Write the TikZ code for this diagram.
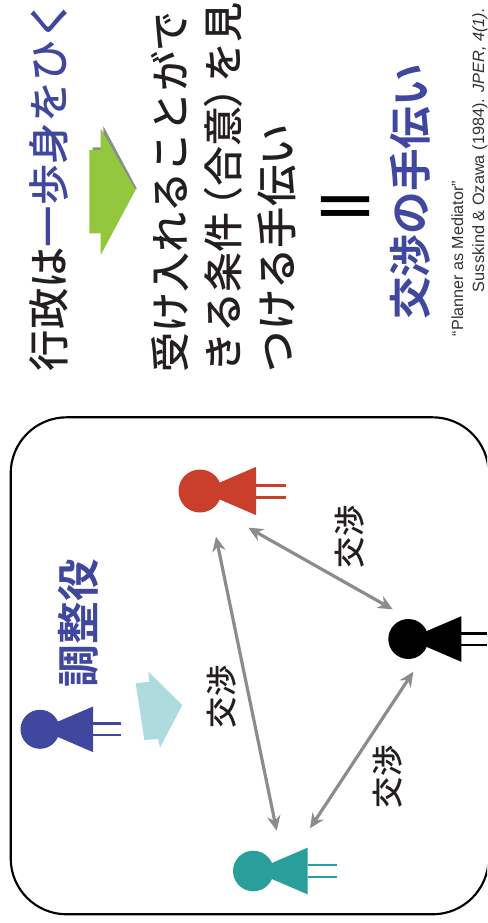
\documentclass[tikz,border=0pt]{standalone}
\usepackage{fontspec}
\usetikzlibrary{arrows.meta}
\setmainfont{Liberation Sans}
\newfontfamily\jp[UprightFont={* Medium},BoldFont={* Bold}]{Noto Sans CJK JP}
\definecolor{inkk}{HTML}{231F20}
\definecolor{navy}{HTML}{3F479F}
\definecolor{redp}{HTML}{C93F2C}
\definecolor{tealp}{HTML}{2A9E9B}
\definecolor{greyl}{HTML}{8A8C8E}
\definecolor{greena}{HTML}{93C83E}
\definecolor{paleb}{HTML}{AEDCDE}
\newcommand{\jsize}[1]{\fontsize{#1}{#1}\selectfont}
\newcommand{\person}[5]{%
  \begin{scope}[shift={(#1,#2)}]
    \fill[#5] (0,0) circle[radius=#3];
    \fill[#5] (0,0) -- (#4,-0.43*#4) -- (#4,0.43*#4) -- cycle;
  \end{scope}}
\tikzset{
  x=0.75pt,y=-0.75pt,
  rottext/.style={rotate=90,anchor=base west,inner sep=0pt,outer sep=0pt,font=\jp,text=inkk},
  gesture/.style={line width=2.4pt,draw=greyl,{Stealth[length=11pt,width=10pt,inset=3.5pt]}-{Stealth[length=11pt,width=10pt,inset=3.5pt]}},
  leg/.style={line width=2pt},
}
\begin{document}
\begin{tikzpicture}
\useasboundingbox (0,0) rectangle (487,923);
% frame
\begin{scope}
\clip (0,0) rectangle (487,923);
\draw[line width=1.6pt,draw=black,rounded corners=42pt] (10.7,417.3) rectangle (488.6,914.3);
\end{scope}
% header text
\node[rottext] (t1) at (64.5,371) {\jsize{31}行政は\textcolor{navy}{一歩身をひく}};
\node[rottext] (t2) at (185,372) {\jsize{30}受け入れることがで};
\node[rottext] (t3) at (238.5,372) {\jsize{30}きる条件\hspace{-10pt}（合意\hspace{-2pt}）\hspace{-10.5pt}を見};
\node[rottext] (t4) at (292.5,372) {\jsize{31}つける手伝い};
\node[rottext,font=\jp\bfseries,text=navy] (t5) at (426,320) {\jsize{32}交渉の手伝い};
\node[inner sep=0pt,outer sep=0pt,font=\jp\bfseries,text=black,xscale=1.16] (eq) at (345.7,213) {\jsize{44}＝};
% citation
\node[rottext,font={},text=inkk!92] (c1) at (463,336) {\fontsize{12.1}{12.1}\selectfont “Planner as Mediator”};
\node[rottext,font={},text=inkk!92] (c2) at (484,292) {\fontsize{12.25}{12.25}\selectfont Susskind \& Ozawa (1984). \textit{JPER, 4(1).}};
% big arrow
\fill[greyl] (92.7,147.3) -- (103.3,147.3) -- (103.3,126) -- (136.7,188.3) -- (136,190) -- (100.7,150) -- (92.7,150) -- cycle;
\fill[greena] (89.3,150) -- (100.7,150) -- (100.7,128.3) -- (135.5,190) -- (100.7,255) -- (100.7,233.3) -- (89.3,233.3) -- cycle;
% small arrow
\fill[paleb] (135.7,683.3) -- (149.3,681.7) -- (148.3,671.7) -- (182.3,705) -- (160,747.7) -- (158.3,739) -- (144.3,740) -- cycle;
% persons
\person{200}{491}{21.5}{56}{redp}
\draw[leg,redp] (256,485.7) -- (285.7,485.7) (256,497.3) -- (285.7,497.3);
\person{40}{729.3}{19.5}{53}{navy}
\draw[leg,navy] (92.7,723.3) -- (120.7,723.3) (92.7,735) -- (120.7,735);
\person{408.3}{639}{20}{53}{black}
\draw[leg,black] (461.3,633.3) -- (486.5,633.3) (461.3,645) -- (486.5,645);
\person{253.3}{871}{20.3}{54.4}{tealp}
\draw[leg,tealp] (307.7,865) -- (336.7,865) (307.7,877) -- (336.7,877);
% coordinates for connectors
\coordinate (rb1) at (248.3,527.7);
\coordinate (rb2) at (392.7,609.3);
\coordinate (rt1) at (216,536.7);
\coordinate (rt2) at (276.7,830.7);
\coordinate (bt1) at (413.3,671.7);
\coordinate (bt2) at (310,828.3);
\draw[gesture] (rb1) -- (rb2);
\draw[gesture] (rt1) -- (rt2);
\draw[gesture] (bt1) -- (bt2);
% labels
\node[rottext] (l1) at (361.5,568) {\jsize{23.5}交渉};
\node[rottext] (l2) at (233,728) {\jsize{23.5}交渉};
\node[rottext] (l3) at (399.5,808) {\jsize{23.5}交渉};
\node[rottext,font=\jp\bfseries,text=navy] (l4) at (94,687) {\jsize{32}調整役};
\end{tikzpicture}
\end{document}
